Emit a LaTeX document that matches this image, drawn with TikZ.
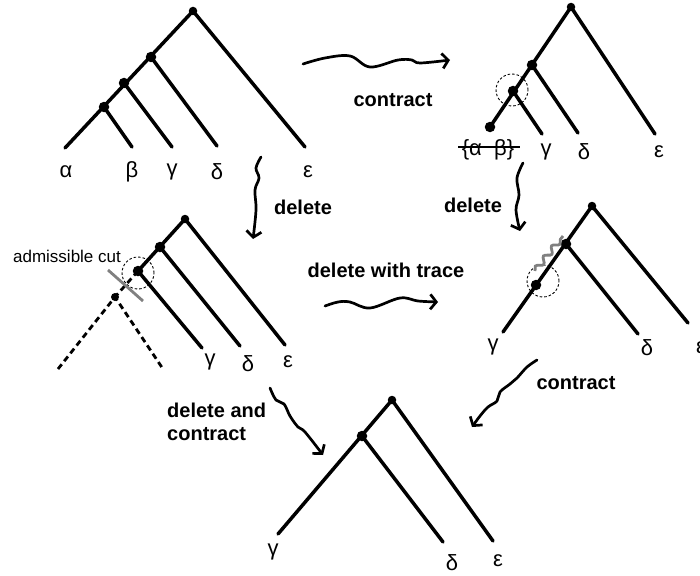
\documentclass[tikz,border=0pt]{standalone}
\usepackage{fontspec}
\setmainfont{Liberation Sans}
\usetikzlibrary{arrows.meta,decorations.pathmorphing}

\tikzset{
  branch/.style={line width=3.5pt, line cap=round},
  lostbranch/.style={line width=2.8pt, dash pattern=on 6pt off 4pt},
  vertex/.style={circle, fill=black, inner sep=0pt, minimum size=10.5pt},
  halo/.style={circle, draw, line width=0.9pt, dash pattern=on 2.5pt off 2pt, minimum size=32pt, inner sep=0pt},
  leaf/.style={font=\fontsize{22}{22}\selectfont, inner sep=0pt},
  op/.style={font=\fontsize{20}{23}\selectfont\bfseries, inner sep=0pt},
  squiggle/.style={line width=2.7pt, line cap=round, line join=round,
    -{Straight Barb[length=6pt,width=15pt,line width=2.7pt]}},
  trace/.style={gray, line width=2.8pt, decorate,
    decoration={snake, amplitude=2.8pt, segment length=13pt}},
}

\begin{document}
\begin{tikzpicture}[x=1pt,y=-1pt]
  \useasboundingbox (0,0) rectangle (700,575);

  % full tree
  \node[vertex, minimum size=8.5pt] (a0) at (193,11) {};
  \node[vertex] (a1) at (151,57) {};
  \node[vertex] (a2) at (124,83) {};
  \node[vertex] (a3) at (104,107) {};
  \coordinate (aA) at (65,148);
  \coordinate (aB) at (132,147);
  \coordinate (aG) at (172,147);
  \coordinate (aD) at (217,146);
  \coordinate (aE) at (305,147);
  \draw[branch] (aA) -- (a0.center) -- (aE);
  \draw[branch] (a3.center) -- (aB);
  \draw[branch] (a2.center) -- (aG);
  \draw[branch] (a1.center) -- (aD);
  \node[leaf] (la) at (66,172) {α};
  \node[leaf] (lb) at (132,172) {β};
  \node[leaf] (lg) at (172,172) {γ};
  \node[leaf] (ld) at (217,172) {δ};
  \node[leaf] (le) at (308,172) {ε};

  % after contracting alpha beta
  \node[vertex, minimum size=8.5pt] (b0) at (571,7) {};
  \node[vertex] (b1) at (532,65) {};
  \node[vertex] (b2) at (513,91) {};
  \node[vertex] (b3) at (490,127) {};
  \coordinate (bG) at (542,134);
  \coordinate (bD) at (578,133);
  \coordinate (bE) at (655,134);
  \draw[branch] (b3.center) -- (b0.center) -- (bE);
  \draw[branch] (b2.center) -- (bG);
  \draw[branch] (b1.center) -- (bD);
  \node[halo] (hb) at (512,90) {};
  \node[leaf] (lab) at (488,150) {\{α~~β\}};
  \coordinate (sa) at (458,147);
  \coordinate (sb) at (520,147);
  \draw[line width=1.4pt] (sa) -- (sb);
  \node[leaf] (mg) at (546,152) {γ};
  \node[leaf] (md) at (584,152) {δ};
  \node[leaf] (me) at (659,152) {ε};

  % after deleting, with the cut
  \node[vertex, minimum size=8.5pt] (c0) at (185,219) {};
  \node[vertex] (c1) at (160,247) {};
  \node[vertex] (c2) at (138,271) {};
  \node[vertex, minimum size=8pt] (c3) at (115,297) {};
  \coordinate (cL) at (58,369);
  \coordinate (cR) at (163,369);
  \coordinate (cG) at (202,348);
  \coordinate (cD) at (240,346);
  \coordinate (cE) at (285,345);
  \draw[branch] (c2.center) -- (c0.center) -- (cE);
  \draw[branch] (c2.center) -- (cG);
  \draw[branch] (c1.center) -- (cD);
  \draw[lostbranch] (c2.center) -- (c3.center);
  \draw[lostbranch] (cL) -- (c3.center) -- (cR);
  \node[halo] (hc) at (138,273) {};
  \coordinate (cut1) at (108,270);
  \coordinate (cut2) at (143,301);
  \draw[gray, line width=2.8pt] (cut1) -- (cut2);
  \node[font=\fontsize{17}{17}\selectfont, inner sep=0pt] (cutlbl) at (67,256) {admissible cut};
  \node[leaf] (ng) at (210,362) {γ};
  \node[leaf] (nd) at (248,364) {δ};
  \node[leaf] (ne) at (288,362) {ε};

  % deleted with trace
  \node[vertex, minimum size=8.5pt] (d0) at (592,206) {};
  \node[vertex] (d1) at (566,244) {};
  \node[vertex] (d2) at (536,285) {};
  \coordinate (dG) at (503,332);
  \coordinate (dD) at (638,334);
  \coordinate (dE) at (688,323);
  \draw[branch] (dG) -- (d0.center) -- (dE);
  \draw[branch] (d1.center) -- (dD);
  \node[halo] (hd) at (543,281) {};
  \coordinate (tr1) at (535,271);
  \coordinate (tr2) at (563,236);
  \draw[trace] (tr1) -- (tr2);
  \node[leaf] (pg) at (493,347) {γ};
  \node[leaf] (pd) at (647,348) {δ};
  \node[leaf] (pe) at (701,348) {ε};

  % final tree
  \node[vertex, minimum size=8.5pt] (e0) at (392,400) {};
  \node[vertex] (e1) at (362,436) {};
  \coordinate (eG) at (278,534);
  \coordinate (eD) at (443,542);
  \coordinate (eE) at (493,541);
  \draw[branch] (eG) -- (e0.center) -- (eE);
  \draw[branch] (e1.center) -- (eD);
  \node[leaf] (qg) at (273,552) {γ};
  \node[leaf] (qd) at (452,563) {δ};
  \node[leaf] (qe) at (498,561) {ε};

  % moves between the trees
  \draw[squiggle] plot[smooth, tension=0.6] coordinates
    {(303,64) (325,58) (350,56) (370,67) (398,60) (412,60) (420,63) (450,60)};
  \node[op] (opc1) at (393,100) {contract};

  \draw[squiggle] plot[smooth, tension=0.6] coordinates
    {(261,157) (256,168) (259,178) (255,190) (256,210) (253,239)};
  \node[op] (opd1) at (303,207) {delete};

  \draw[squiggle] plot[smooth, tension=0.6] coordinates
    {(523,163) (517,178) (519,195) (516,210) (520,231)};
  \node[op] (opd2) at (473,205) {delete};

  \draw[squiggle] plot[smooth, tension=0.6] coordinates
    {(325,306) (338,302) (350,302) (370,308) (400,298) (418,301) (438,302)};
  \node[op] (opt) at (386,270) {delete with trace};

  \draw[squiggle] plot[smooth, tension=0.6] coordinates
    {(537,360) (527,367) (517,378) (510,384) (500,392) (497,401) (488,407) (480,416) (472,427)};
  \node[op] (opc2) at (576,383) {contract};

  \draw[squiggle] plot[smooth, tension=0.6] coordinates
    {(270,388) (276,400) (284,404) (290,416) (298,427) (305,432) (323,455)};
  \node[op, align=left, anchor=west] (opdc) at (167,422) {delete and\\contract};
\end{tikzpicture}
\end{document}
